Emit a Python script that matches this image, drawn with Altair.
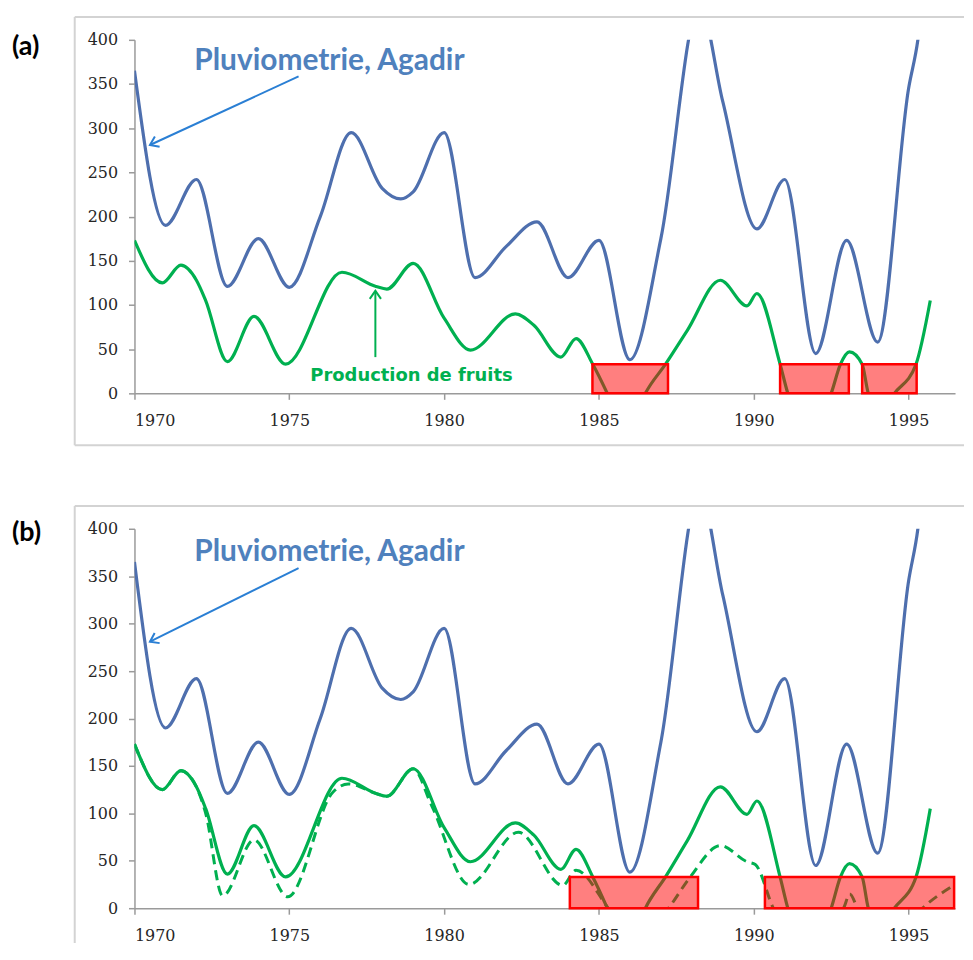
import math
import altair as alt
import pandas as pd

# ---------------- data ----------------
# Rainfall (Pluviometrie, Agadir) - blue curve
rain_year = [1970, 1971, 1972, 1973, 1974, 1975, 1976, 1977, 1978, 1978.6, 1979, 1980,
             1981, 1982, 1983, 1984, 1985, 1986, 1987, 1988.25, 1989, 1990.1, 1991,
             1992, 1993, 1994, 1995, 1995.3, 1995.5]
rain_val = [365, 190, 242, 121, 175, 120, 200, 295, 232, 220, 228, 295,
            131, 166, 194, 131, 173, 38, 175, 440, 330, 186, 242,
            45, 173, 58, 345, 400, 460]

# Fruit production - green solid curve
fruit_year = [1970.0, 1970.9, 1971.5, 1972.0, 1972.3, 1973.0, 1973.86, 1974.88, 1976.7,
              1977.8, 1978.15, 1979.0, 1980.0, 1980.85, 1982.3, 1982.9, 1983.77, 1984.26,
              1984.8, 1985.27, 1985.9, 1986.5, 1987.15, 1987.85, 1988.92, 1989.78, 1990.1,
              1990.85, 1991.1, 1991.8, 1992.5, 1992.8, 1993.09, 1993.5, 1993.7, 1994.1,
              1994.54, 1995.24, 1995.7]
fruit_val = [173, 125, 145, 128, 105, 36, 87, 33, 137,
             121, 118, 147, 85, 49, 90, 77, 41, 62,
             33, 0, -50, 0, 33, 71, 128, 99, 113,
             33, 0, -40, 0, 33, 47, 33, 0, -20,
             0, 33, 105]

# Fruit production - green dashed curve (panel b)
fruit2_year = [1970.0, 1970.9, 1971.5, 1972.0, 1972.3, 1972.85, 1973.86, 1974.95, 1976.4,
               1976.9, 1977.8, 1978.15, 1979.0, 1979.6, 1980.8, 1982.4, 1983.83, 1984.26,
               1985.3, 1986.2, 1987.25, 1987.95, 1988.92, 1989.78, 1990.05, 1990.63, 1991.5,
               1992.9, 1993.1, 1993.35, 1994.4, 1995.45, 1996.45]
fruit2_val = [173, 125, 145, 128, 100, 13, 72, 12, 122,
              131, 121, 118, 147, 108, 25, 80, 24, 40,
              0, -40, 0, 33, 66, 49, 46, 0, -40,
              0, 15, 0, -40, 0, 24]

# Red boxes (drought periods)
box_a_start = [1984.79, 1990.85, 1993.5]
box_a_end = [1987.23, 1993.07, 1995.26]
box_b_start = [1984.06, 1990.36]
box_b_end = [1988.2, 1996.47]
box_bottom = 0
box_top = 33

# Annotations
rain_label = "Pluviometrie, Agadir"
rain_label_year, rain_label_val = 1971.93, 366
rain_arrow_year = [1975.3, 1970.5]
rain_arrow_val = [358.6, 281]
fruit_label = "Production de fruits"
fruit_label_year, fruit_label_val = 1975.68, 14
fruit_arrow_year = [1977.78, 1977.78]
fruit_arrow_val = [41, 116]
panel_labels = ["(a)", "(b)"]

x_ticks = [1970, 1975, 1980, 1985, 1990, 1995]
y_ticks = [0, 50, 100, 150, 200, 250, 300, 350, 400]

# ---------------- styling ----------------
W = 824
X_DOMAIN = [1970, 1996.5]
BLUE = "#4e6fae"
GREEN = "#00b050"
TITLE_BLUE = "#4f81bd"
ARROW_BLUE = "#2a7fd4"
FRAME = "#d3d3d3"
ARROW_PATH = "M -1 -0.7 L 0 0 L -1 0.7"


def panel(h, label, label_dy, bx0, bx1, dashed, fruit_note, frame_bottom):
    xs = alt.Scale(domain=X_DOMAIN, nice=False, zero=False)
    ys = alt.Scale(domain=[0, 400], nice=False)
    xax = alt.Axis(values=x_ticks, format="d", title=None, labelPadding=13,
                   tickSize=6, grid=False)
    yax = alt.Axis(values=y_ticks, title=None, labelPadding=11, tickSize=6, grid=False)

    def X(f="x"):
        return alt.X(f"{f}:Q", scale=xs, axis=xax)

    def Y(f="y"):
        return alt.Y(f"{f}:Q", scale=ys, axis=yax)

    one = pd.DataFrame({"d": [0]})
    layers = []
    # frame
    layers.append(alt.Chart(one).mark_rule(color=FRAME, strokeWidth=2).encode(
        x=alt.value(-60), x2=alt.value(W + 9), y=alt.value(-23)))
    layers.append(alt.Chart(one).mark_rule(color=FRAME, strokeWidth=2).encode(
        x=alt.value(-60), y=alt.value(-23), y2=alt.value(frame_bottom)))
    if frame_bottom == h + 52:
        layers.append(alt.Chart(one).mark_rule(color=FRAME, strokeWidth=2).encode(
            x=alt.value(-60), x2=alt.value(W + 9), y=alt.value(frame_bottom)))

    rain = pd.DataFrame({"x": rain_year, "y": rain_val})
    fruit = pd.DataFrame({"x": fruit_year, "y": fruit_val})
    layers.append(alt.Chart(rain).mark_line(interpolate="monotone", clip=True,
                                            color=BLUE, strokeWidth=3.2).encode(x=X(), y=Y()))
    if dashed:
        fruit2 = pd.DataFrame({"x": fruit2_year, "y": fruit2_val})
        layers.append(alt.Chart(fruit2).mark_line(interpolate="monotone", clip=True,
                                                  color=GREEN, strokeWidth=3,
                                                  strokeDash=[10, 6]).encode(x=X(), y=Y()))
    layers.append(alt.Chart(fruit).mark_line(interpolate="monotone", clip=True,
                                             color=GREEN, strokeWidth=3.2).encode(x=X(), y=Y()))

    boxes = pd.DataFrame({"x": bx0, "x2": bx1, "y": [box_bottom] * len(bx0),
                          "y2": [box_top] * len(bx0)})
    layers.append(alt.Chart(boxes).mark_rect(fill="#ff0000", fillOpacity=0.5,
                                             stroke="#ff0000", strokeWidth=2.5).encode(
        x=X(), x2="x2:Q", y=Y(), y2="y2:Q"))

    # rain annotation
    layers.append(alt.Chart(pd.DataFrame({"x": [rain_label_year], "y": [rain_label_val],
                                          "t": [rain_label]})).mark_text(
        align="left", baseline="alphabetic", font="Lato", fontWeight="bold",
        fontSize=30, color=TITLE_BLUE).encode(x=X(), y=Y(), text="t:N"))
    ra = pd.DataFrame({"x": [rain_arrow_year[0]], "y": [rain_arrow_val[0]],
                       "x2": [rain_arrow_year[1]], "y2": [rain_arrow_val[1]]})
    layers.append(alt.Chart(ra).mark_rule(color=ARROW_BLUE, strokeWidth=2).encode(
        x=X(), y=Y(), x2="x2:Q", y2="y2:Q"))
    dx = (rain_arrow_year[1] - rain_arrow_year[0]) * W / (X_DOMAIN[1] - X_DOMAIN[0])
    dy = -(rain_arrow_val[1] - rain_arrow_val[0]) * h / 400
    ang = math.degrees(math.atan2(dy, dx)) % 360
    layers.append(alt.Chart(pd.DataFrame({"x": [rain_arrow_year[1]], "y": [rain_arrow_val[1]]}))
                  .mark_point(shape=ARROW_PATH, filled=False, stroke=ARROW_BLUE,
                              strokeWidth=2, size=260, angle=ang, opacity=1)
                  .encode(x=X(), y=Y()))

    if fruit_note:
        layers.append(alt.Chart(pd.DataFrame({"x": [fruit_label_year], "y": [fruit_label_val],
                                              "t": [fruit_label]})).mark_text(
            align="left", baseline="alphabetic", font="DejaVu Sans", fontWeight="bold",
            fontSize=18, color=GREEN).encode(x=X(), y=Y(), text="t:N"))
        fa = pd.DataFrame({"x": [fruit_arrow_year[0]], "y": [fruit_arrow_val[0]],
                           "x2": [fruit_arrow_year[1]], "y2": [fruit_arrow_val[1]]})
        layers.append(alt.Chart(fa).mark_rule(color=GREEN, strokeWidth=2).encode(
            x=X(), y=Y(), x2="x2:Q", y2="y2:Q"))
        layers.append(alt.Chart(pd.DataFrame({"x": [fruit_arrow_year[1]],
                                              "y": [fruit_arrow_val[1]]}))
                      .mark_point(shape=ARROW_PATH, filled=False, stroke=GREEN,
                                  strokeWidth=2, size=260, angle=270, opacity=1)
                      .encode(x=X(), y=Y()))

    layers.append(alt.Chart(one).mark_text(
        align="left", baseline="middle", font="Lato", fontWeight="bold", fontSize=27,
        color="#000000").encode(x=alt.value(-123), y=alt.value(label_dy),
                                text=alt.value(label)))

    return alt.layer(*layers).properties(width=W, height=h)


H_A = 355
H_B = 381
pa = panel(H_A, panel_labels[0], 7, box_a_start, box_a_end, False, True, H_A + 52)
pb = panel(H_B, panel_labels[1], 4, box_b_start, box_b_end, True, False, H_B + 35)

chart = alt.vconcat(pa, pb, spacing=59).properties(
    padding={"left": 4, "top": 6, "right": 0, "bottom": 0}
).configure_view(strokeWidth=0).configure_axis(
    domainColor="#9a9a9a", domainWidth=1.5, tickColor="#9a9a9a", tickWidth=1.5,
    labelFont="DejaVu Serif", labelFontSize=16, labelColor="#262626"
)

chart.save("out.html", embed_options={"renderer": "svg", "actions": False})
